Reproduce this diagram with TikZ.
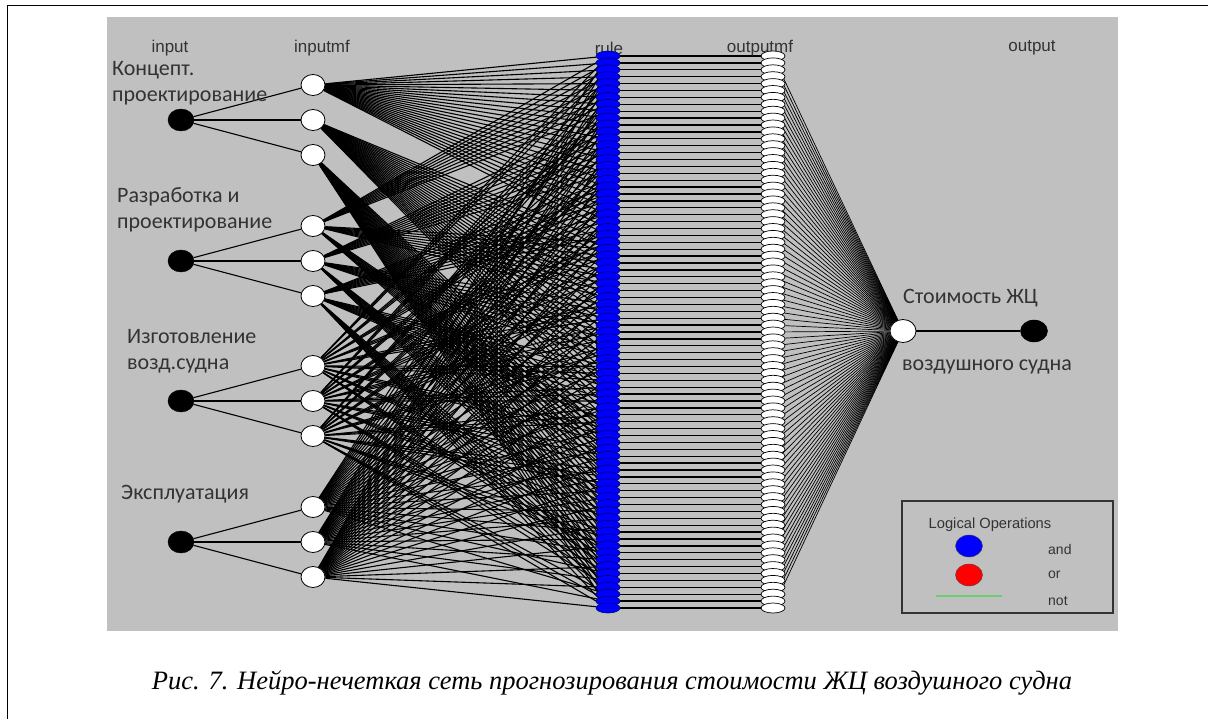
\documentclass[tikz,border=0pt]{standalone}
\usepackage{fontspec}
\setmainfont{Liberation Serif}
\newfontfamily\calibfont{Carlito}
\newfontfamily\matfont{Liberation Sans}
\usetikzlibrary{shapes.geometric}
\pgfdeclarelayer{panel}
\pgfdeclarelayer{links}
\pgfsetlayers{panel,links,main}
\definecolor{panelgray}{RGB}{192,192,192}
\definecolor{notgreen}{RGB}{110,205,110}

\begin{document}
\begin{tikzpicture}[x=1pt, y=-1pt,
  innode/.style={ellipse, draw=black, fill=black, minimum width=26pt,
    minimum height=22pt, inner sep=0},
  mfnode/.style={ellipse, draw=black, fill=white, line width=0.8pt,
    minimum width=24pt, minimum height=21pt, inner sep=0},
  rulenode/.style={ellipse, draw=blue!45!black, fill=blue, line width=0.6pt,
    minimum width=24pt, minimum height=10pt, inner sep=0},
  omfnode/.style={ellipse, draw=black, fill=white, line width=0.7pt,
    minimum width=24pt, minimum height=10pt, inner sep=0},
  link/.style={draw=black, line width=1.1pt},
  lbl/.style={font=\matfont\fontsize{17}{20}\selectfont, text=black!80, inner sep=0},
  varlbl/.style={font=\calibfont\fontsize{22}{26}\selectfont, text=black!80,
    anchor=west, align=left, inner sep=0},
  legtxt/.style={font=\matfont\fontsize{14}{16}\selectfont, text=black!80,
    anchor=west, inner sep=0}
]
\useasboundingbox (0,0) rectangle (1208,719);
\draw[line width=1pt] (7,719) -- (7,6) -- (1208,6);
\begin{pgfonlayer}{panel}
  \fill[panelgray] (107,17) rectangle (1118,631);
\end{pgfonlayer}

\node[lbl] at (170,48) {input};
\node[lbl] at (322,48) {inputmf};
\node[lbl] at (609,48) {rule};
\node[lbl] at (760,48) {outputmf};
\node[lbl] at (1032,48) {output};

\node[varlbl] (v1) at (112,83) {Концепт.\\проектирование};
\node[varlbl] (v2) at (117,210) {Разработка и\\проектирование};
\node[varlbl] (v3) at (127,351) {Изготовление\\возд.судна};
\node[varlbl] (v4) at (121,494) {Эксплуатация};

\foreach \k/\y in {1/120, 2/261, 3/401, 4/542}{
  \node[innode] (in\k) at (181,\y) {};
  \foreach \j in {1,2,3}
    \node[mfnode] (mf\k-\j) at (313,{\y+35*(\j-2)}) {};
}

\foreach \r in {0,...,80}{
  \node[rulenode] (r\r) at (608,{56+6.9*\r}) {};
  \node[omfnode] (om\r) at (773,{56+6.9*\r}) {};
}

\node[mfnode, minimum width=26pt, minimum height=23pt] (outmf) at (903,331) {};
\node[innode, minimum width=27pt] (out) at (1034,331) {};
\node[varlbl] at (903,298) {Стоимость ЖЦ};
\node[varlbl] at (902,367) {воздушного судна};

\begin{pgfonlayer}{links}
  \foreach \k/\p in {1/27, 2/9, 3/3, 4/1}{
    \foreach \j in {1,2,3}{
      \draw[link] (in\k) -- (mf\k-\j);
      \foreach \r in {0,...,80}{
        \pgfmathtruncatemacro\dig{mod(floor(\r/\p),3)+1}
        \ifnum\dig=\j \draw[link] (mf\k-\j) -- (r\r);\fi
      }
    }
  }
  \foreach \r in {0,...,80}{
    \draw[link, line width=1.3pt] (r\r) -- (om\r);
    \draw[link, line width=0.7pt] (om\r) -- (outmf);
  }
  \draw[link] (outmf) -- (out);
\end{pgfonlayer}

% legend
\draw[draw=black!80, line width=1.2pt] (902,501) rectangle (1113,613);
\node[lbl, font=\matfont\fontsize{14.7}{17}\selectfont] at (990,525) {Logical Operations};
\node[ellipse, draw=black!70, fill=blue, minimum width=27pt, minimum height=22pt, inner sep=0]
  (andkey) at (969,546) {};
\node[ellipse, draw=black!70, fill=red, minimum width=27pt, minimum height=22pt, inner sep=0]
  (orkey) at (969,575) {};
\coordinate (notA) at (936,596);
\coordinate (notB) at (1002,596);
\draw[notgreen, line width=1.2pt] (notA) -- (notB);
\node[legtxt] at (1048,549) {and};
\node[legtxt] at (1048,575) {or};
\node[legtxt] at (1048,601) {not};

\node[font=\fontsize{26.5}{30}\selectfont\itshape, inner sep=0] (caption) at (612,683)
  {Рис. 7. Нейро-нечеткая сеть прогнозирования стоимости ЖЦ воздушного судна};
\end{tikzpicture}
\end{document}
